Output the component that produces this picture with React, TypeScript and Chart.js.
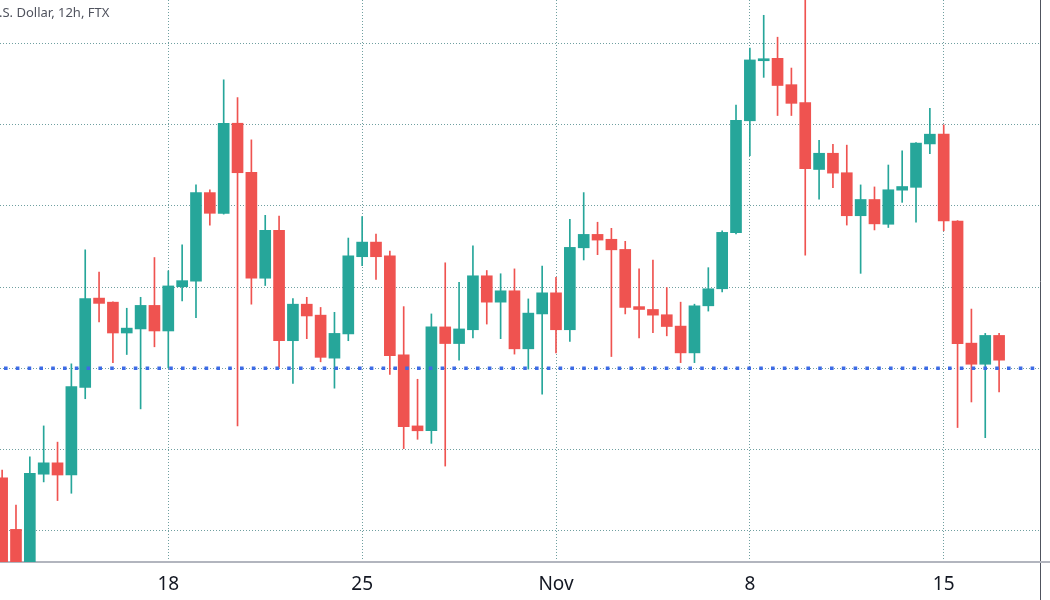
import React, { useEffect, useRef } from "react";
import { Chart, registerables } from "chart.js";

Chart.register(...registerables);

// ---- data ----
const title = ".S. Dollar, 12h, FTX";
const firstCandleDay = -6; // first visible candle: Oct 12 00:00 (days relative to Oct 18)
const candleStepDays = 0.5; // 12h candles
const tickDays = [0, 7, 14, 21, 28];
const tickLabels = ["18", "25", "Nov", "8", "15"];
const gridPrices = [56000, 58000, 60000, 62000, 64000, 66000, 68000];
const alertPrice = 60000;

const opens = [
  57300, 56030, 55000, 57390, 57670, 57370, 59530, 61730, 61630, 60870, 60970, 61550,
  60920, 62010, 62150, 64330, 63820, 66040, 64830, 62220, 63400, 60680, 61580, 61310,
  60250, 60850, 62750, 63110, 62770, 60330, 58580, 58460, 61020, 60610, 60950, 62280,
  61630, 61910, 60480, 61340, 61860, 60950, 62970, 63300, 63180, 62930, 61520, 61450,
  61320, 61040, 60380, 61540, 61960, 63340, 66100, 67580, 67640, 66990, 66550, 64900,
  65300, 64820, 63760, 64160, 63550, 64390, 64460, 65530, 65770, 63630, 60620, 60100,
  60810,
];
const highs = [
  57490, 56630, 57820, 58580, 58180, 60110, 62920, 62370, 61640, 61480, 61750, 62730,
  62400, 63040, 64520, 64400, 67110, 66670, 65630, 63770, 63750, 61720, 61750, 61500,
  61380, 63210, 63740, 63310, 62890, 61520, 59730, 61340, 62600, 62120, 63020, 62410,
  62330, 62450, 61710, 62520, 62240, 63670, 64330, 63600, 63450, 63130, 62450, 62670,
  61990, 61630, 61580, 62480, 63390, 66490, 67890, 68700, 68160, 67400, 69300, 65620,
  65520, 65500, 64520, 64470, 65010, 65360, 65560, 66410, 66000, 63640, 61460, 60860,
  60860,
];
const lows = [
  54600, 54400, 54700, 57200, 56740, 56920, 59250, 61140, 60140, 60340, 59000, 60530,
  60010, 61660, 61250, 63530, 63800, 58580, 61580, 62040, 60020, 59630, 60730, 60160,
  59510, 60680, 62530, 62190, 59850, 58020, 58250, 58150, 57590, 60200, 60750, 61090,
  60730, 60350, 59980, 59360, 60380, 60660, 62670, 62800, 60290, 61340, 60750, 60880,
  60800, 60140, 60140, 61410, 61880, 63310, 65240, 67170, 66230, 66230, 62790, 64170,
  64450, 63530, 62340, 63410, 63470, 64090, 63600, 65290, 63390, 58540, 59170, 58290,
  59420,
];
const closes = [
  55100, 54900, 57410, 57670, 57370, 59550, 61720, 61600, 60870, 60990, 61550, 60920,
  62030, 62160, 64330, 63820, 66040, 64820, 62220, 63400, 60680, 61580, 61290, 60270,
  60860, 62770, 63110, 62750, 60310, 58560, 58460, 61020, 60610, 60970, 62280, 61630,
  61910, 60480, 61360, 61860, 60950, 62980, 63300, 63160, 62920, 61500, 61450, 61310,
  61030, 60380, 61540, 61960, 63350, 66110, 67600, 67630, 66970, 66530, 64920, 65300,
  64810, 63760, 64160, 63560, 64400, 64480, 65550, 65770, 63630, 60610, 60100, 60810,
  60200,
];

// ---- view ----
const X_MIN = -6.0773;
const X_MAX = 31.477;
const Y_MIN = 55226;
const Y_MAX = 69077;
const UP = "#26a69a";
const DOWN = "#ef5350";
const GRID = "#6f9fa0";

const edgePlugin = {
  id: "edgeLines",
  afterDraw(chart: any) {
    const { ctx, chartArea, width, height } = chart;
    ctx.save();
    ctx.strokeStyle = "#50535e";
    ctx.lineWidth = 1;
    ctx.beginPath();
    const x = Math.round(chartArea.right) + 0.5;
    ctx.moveTo(x, chartArea.bottom);
    ctx.lineTo(x, height);
    ctx.stroke();
    ctx.strokeStyle = "#b2b5be";
    ctx.lineWidth = 2;
    ctx.beginPath();
    ctx.moveTo(chartArea.right, chartArea.bottom);
    ctx.lineTo(width, chartArea.bottom);
    ctx.stroke();
    ctx.restore();
  },
};

export default function App() {
  const ref = useRef<HTMLCanvasElement>(null);

  useEffect(() => {
    const xs = opens.map((_, k) => firstCandleDay + k * candleStepDays);
    const colors = opens.map((o, k) => (closes[k] >= o ? UP : DOWN));
    const bodyData = xs.map((x, k) => ({ x, y: [opens[k], closes[k]] }));
    const wickData = xs.map((x, k) => ({ x, y: [lows[k], highs[k]] }));

    const chart = new Chart(ref.current as HTMLCanvasElement, {
      type: "bar",
      data: {
        datasets: [
          {
            type: "line",
            label: "level",
            data: [
              { x: X_MIN, y: alertPrice },
              { x: X_MAX, y: alertPrice },
            ],
            borderColor: "#3d6be6",
            borderWidth: 3.6,
            borderDash: [3.6, 8.2],
            borderDashOffset: -4,
            borderCapStyle: "butt",
            pointRadius: 0,
            order: 0,
          } as any,
          {
            label: "body",
            data: bodyData as any,
            backgroundColor: colors,
            barThickness: 11,
            grouped: false,
            minBarLength: 1,
            order: 1,
          } as any,
          {
            label: "wick",
            data: wickData as any,
            backgroundColor: colors,
            barThickness: 1,
            grouped: false,
            order: 2,
          } as any,
        ],
      },
      options: {
        responsive: false,
        animation: false,
        events: [],
        layout: { padding: 0 },
        plugins: { legend: { display: false }, tooltip: { enabled: false }, title: { display: false } },
        scales: {
          x: {
            type: "linear",
            min: X_MIN,
            max: X_MAX,
            offset: false,
            grid: { display: true, color: GRID, lineWidth: 1, drawTicks: false, offset: false },
            border: { display: true, color: "#b2b5be", width: 2, dash: [1, 2] },
            ticks: {
              autoSkip: false,
              maxRotation: 0,
              padding: 11,
              color: "#131722",
              font: { family: "Noto Sans", size: 19 },
              callback: (v: any) => {
                const k = tickDays.indexOf(Number(v));
                return k >= 0 ? tickLabels[k] : "";
              },
            },
            afterBuildTicks: (s: any) => {
              s.ticks = tickDays.map((v) => ({ value: v }));
            },
            afterFit: (s: any) => {
              s.height = 38;
            },
          },
          y: {
            type: "linear",
            position: "right",
            min: Y_MIN,
            max: Y_MAX,
            grid: { display: true, color: GRID, lineWidth: 1, drawTicks: false },
            border: { display: true, color: "#50535e", width: 1, dash: [1, 2] },
            ticks: { display: false },
            afterBuildTicks: (s: any) => {
              s.ticks = gridPrices.map((v) => ({ value: v }));
            },
            afterFit: (s: any) => {
              s.width = 10;
            },
          },
        },
      } as any,
      plugins: [edgePlugin],
    });
    return () => chart.destroy();
  }, []);

  return (
    <div style={{ position: "fixed", left: 0, top: 0, width: 1050, height: 600, background: "#ffffff", overflow: "hidden" }}>
      <canvas ref={ref} width={1050} height={600} style={{ position: "absolute", left: 0, top: 0 }} />
      <div
        style={{
          position: "absolute",
          left: -1,
          top: 4,
          fontFamily: "Noto Sans",
          fontSize: 13,
          lineHeight: "17px",
          color: "#50535e",
          whiteSpace: "nowrap",
        }}
      >
        {title}
      </div>
    </div>
  );
}
